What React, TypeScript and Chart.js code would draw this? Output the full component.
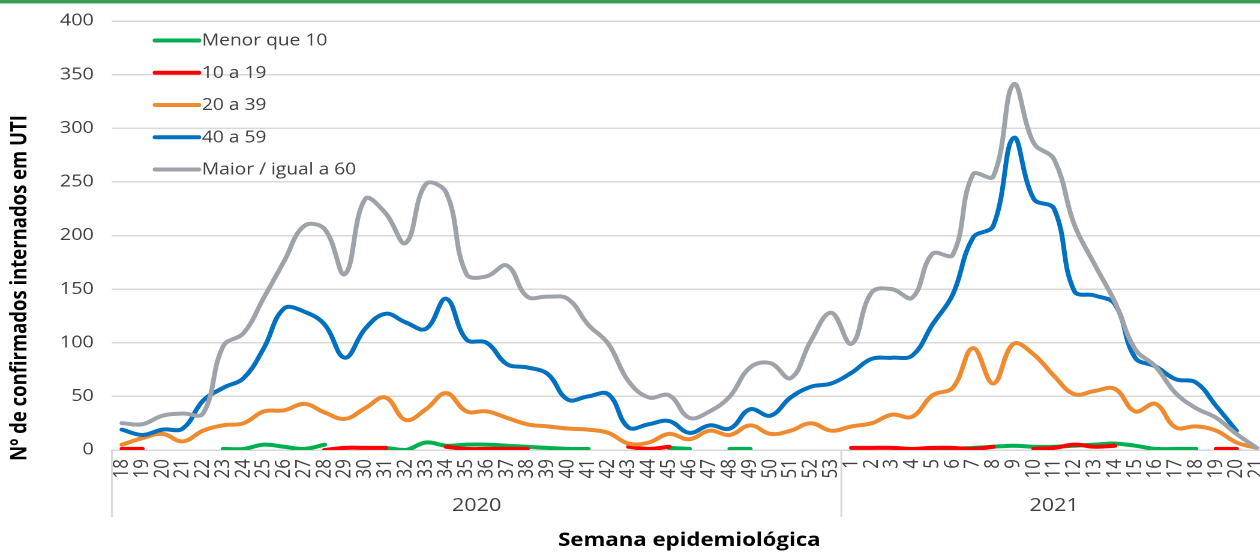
import { useEffect, useRef } from "react";
import { Chart, registerables } from "chart.js";

Chart.register(...registerables);

// ---------- data ----------
const weekLabels = [
  "18", "19", "20", "21", "22", "23", "24", "25", "26", "27", "28", "29", "30", "31", "32", "33", "34", "35",
  "36", "37", "38", "39", "40", "41", "42", "43", "44", "45", "46", "47", "48", "49", "50", "51", "52", "53",
  "1", "2", "3", "4", "5", "6", "7", "8", "9", "10", "11", "12", "13", "14", "15", "16", "17", "18", "19", "20", "21",
];
const yearLabels = ["2020", "2021"];
const yearStartIndex = [0, 36];

const menorQue10 = [
  null, null, null, null, null, 1, 1, 5, 3, 1, 5, null, null, 2, 0, 7, 4, 5,
  5, 4, 3, 2, 1, 1, null, null, null, 2, 1, null, 1, 1, null, null, null, null,
  null, null, null, null, 1, 1, 2, 3, 4, 3, 3, 4, 5, 6, 4, 1, 1, 1, null, null, null,
];
const de10a19 = [
  1, 1, null, null, null, null, null, null, null, null, 0, 2, 2, 2, null, null, 3, 1,
  1, 1, 1, null, null, null, null, 3, 1, 3, null, null, null, null, null, null, null, null,
  2, 2, 2, 1, 2, 2, 1, 3, null, 1, 2, 5, 3, 4, null, null, null, null, 1, 1, null,
];
const de20a39 = [
  5, 11, 15, 8, 18, 23, 25, 36, 37, 43, 35, 29, 39, 49, 28, 38, 53, 36,
  36, 30, 24, 22, 20, 19, 16, 6, 7, 15, 10, 18, 14, 23, 15, 18, 25, 18,
  22, 25, 33, 31, 51, 58, 95, 62, 99, 89, 69, 52, 55, 57, 36, 43, 21, 22, 18, 7, 2,
];
const de40a59 = [
  19, 14, 19, 20, 46, 58, 67, 95, 132, 129, 117, 86, 113, 127, 119, 113, 141, 103,
  100, 80, 77, 71, 47, 50, 52, 21, 24, 27, 16, 23, 20, 38, 32, 49, 59, 62,
  72, 85, 86, 88, 117, 145, 198, 209, 291, 234, 225, 148, 144, 136, 86, 78, 66, 63, 41, 18, null,
];
const maiorIgual60 = [
  25, 24, 32, 34, 34, 97, 109, 142, 176, 209, 206, 164, 234, 221, 193, 248, 240, 164,
  162, 172, 143, 143, 141, 117, 99, 64, 49, 51, 30, 36, 50, 77, 81, 67, 102, 128,
  99, 147, 150, 142, 183, 182, 257, 255, 341, 286, 271, 210, 173, 138, 94, 78, 53, 39, 30, 15, 2,
];

const seriesNames = ["Menor que 10", "10 a 19", "20 a 39", "40 a 59", "Maior / igual a 60"];
const seriesColors = ["#00B050", "#FF0000", "#F08A2E", "#0070C0", "#9EA3AA"];
const seriesData = [menorQue10, de10a19, de20a39, de40a59, maiorIgual60];

const yTicks = { min: 0, max: 400, step: 50 };
const yTitle = "Nº de confirmados internados em UTI";
const xTitle = "Semana epidemiológica";

// ---------- layout ----------
const SX = 1.2; // horizontal stretch of the original picture
const LOGICAL_W = 1058;
const H = 552;
const FONT = "'Open Sans', 'Noto Sans', sans-serif";
const TEXT = "#404040";
const GRID = "#D9D9D9";

const decorPlugin = {
  id: "decor",
  beforeDraw(chart: any) {
    const ctx = chart.ctx;
    ctx.save();
    ctx.fillStyle = "#ffffff";
    ctx.fillRect(0, 0, chart.width, chart.height);
    ctx.fillStyle = "#3E9B57";
    ctx.fillRect(0, 0, chart.width, 3.5);
    ctx.restore();
  },
  afterDraw(chart: any) {
    const ctx = chart.ctx;
    const area = chart.chartArea;
    const xs = chart.scales.x;
    ctx.save();

    // group separators and year labels
    const bounds: number[] = [];
    yearStartIndex.forEach((idx, i) => {
      if (i === 0) bounds.push(area.left);
      else bounds.push((xs.getPixelForValue(idx - 1) + xs.getPixelForValue(idx)) / 2);
    });
    bounds.push(area.right);
    ctx.strokeStyle = GRID;
    ctx.lineWidth = 1.5;
    bounds.forEach((bx) => {
      ctx.beginPath();
      ctx.moveTo(bx, area.bottom);
      ctx.lineTo(bx, area.bottom + 67);
      ctx.stroke();
    });
    ctx.fillStyle = TEXT;
    ctx.font = `18px ${FONT}`;
    ctx.textAlign = "center";
    ctx.textBaseline = "middle";
    yearLabels.forEach((lab, i) => {
      ctx.fillText(lab, (bounds[i] + bounds[i + 1]) / 2, area.bottom + 56);
    });

    // legend
    ctx.font = `16px ${FONT}`;
    ctx.textAlign = "left";
    ctx.lineCap = "round";
    seriesNames.forEach((name, i) => {
      const y = area.top + 19.5 + i * 32.25;
      ctx.strokeStyle = seriesColors[i];
      ctx.lineWidth = 4;
      ctx.beginPath();
      ctx.moveTo(area.left + 36, y);
      ctx.lineTo(area.left + 72.5, y);
      ctx.stroke();
      ctx.fillStyle = TEXT;
      ctx.fillText(name, area.left + 75, y + 0.5);
    });

    // y axis title
    ctx.translate(16.7, 288);
    ctx.rotate(-Math.PI / 2);
    ctx.font = `bold 18.5px ${FONT}`;
    ctx.fillStyle = "#000000";
    ctx.textAlign = "center";
    ctx.textBaseline = "middle";
    ctx.fillText(yTitle, 0, 0);
    ctx.restore();
  },
};

export default function App() {
  const ref = useRef<HTMLCanvasElement>(null);

  useEffect(() => {
    if (!ref.current) return;
    const datasets = seriesData.map((d, i) => ({
      label: seriesNames[i],
      data: d,
      borderColor: seriesColors[i],
      backgroundColor: seriesColors[i],
      borderWidth: 4,
      pointRadius: 0,
      pointHoverRadius: 0,
      tension: 0.4,
      borderCapStyle: "round" as const,
      borderJoinStyle: "round" as const,
      spanGaps: false,
      fill: false,
      order: seriesData.length - i,
    }));

    const chart = new Chart(ref.current, {
      type: "line",
      data: { labels: weekLabels, datasets },
      plugins: [decorPlugin],
      options: {
        animation: false,
        responsive: true,
        maintainAspectRatio: false,
        devicePixelRatio: 2,
        layout: { padding: { top: 21, right: 2.3, left: 0, bottom: 0 } },
        plugins: {
          legend: { display: false },
          tooltip: { enabled: false },
        },
        scales: {
          x: {
            type: "category",
            offset: true,
            grid: { display: false, drawTicks: false },
            border: { display: false },
            ticks: {
              autoSkip: false,
              minRotation: 90,
              maxRotation: 90,
              padding: 9,
              color: TEXT,
              font: { family: FONT, size: 17 },
            },
            title: {
              display: true,
              text: xTitle,
              color: "#000000",
              font: { family: FONT, size: 18.5, weight: "bold" },
              padding: { top: 0, bottom: 0 },
            },
            afterFit(scale: any) {
              scale.height = 102;
              scale.paddingLeft = 0;
              scale.paddingRight = 0;
            },
          },
          y: {
            min: yTicks.min,
            max: yTicks.max,
            grid: { color: GRID, lineWidth: 1.5, drawTicks: false },
            border: { display: false },
            ticks: {
              stepSize: yTicks.step,
              padding: 15,
              color: TEXT,
              font: { family: FONT, size: 16.5 },
            },
            afterFit(scale: any) {
              scale.width = 93.2;
              scale.paddingTop = 0;
              scale.paddingBottom = 0;
            },
          },
        },
      },
    });
    return () => chart.destroy();
  }, []);

  return (
    <div
      style={{
        position: "fixed",
        left: 0,
        top: 0,
        width: 1260,
        height: H,
        overflow: "hidden",
        background: "#ffffff",
      }}
    >
      <div
        style={{
          position: "relative",
          width: LOGICAL_W,
          height: H,
          transform: `scaleX(${SX})`,
          transformOrigin: "0 0",
        }}
      >
        <canvas ref={ref} />
      </div>
    </div>
  );
}
